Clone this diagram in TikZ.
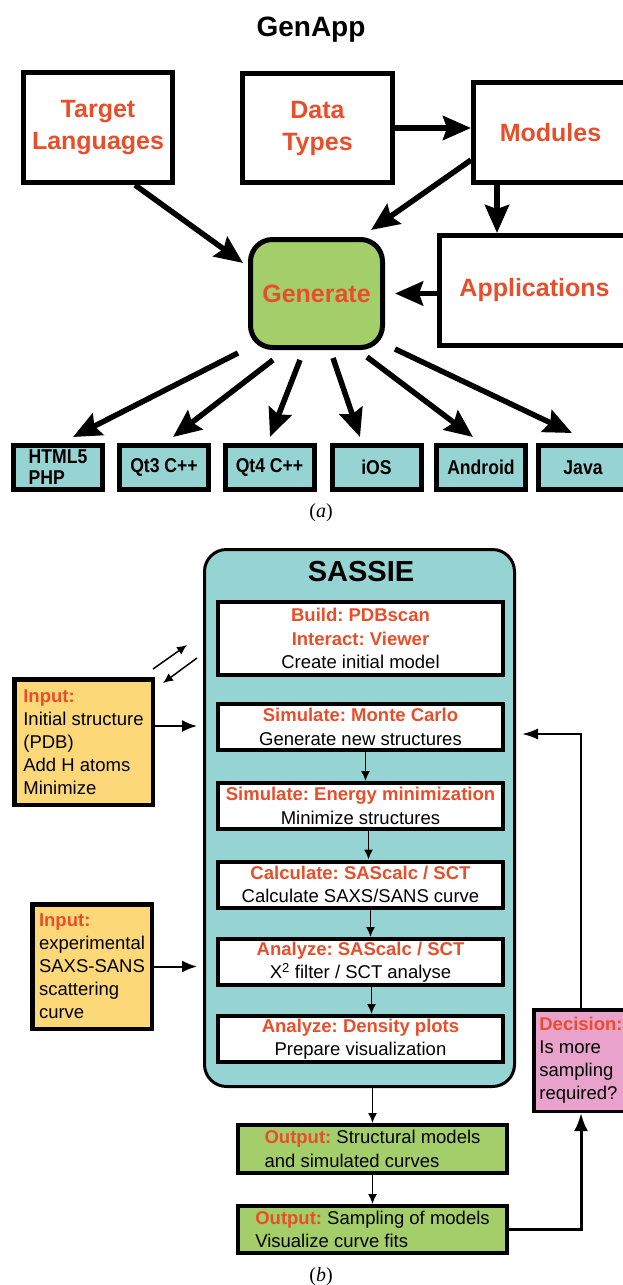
\documentclass[tikz,border=0pt]{standalone}
\usepackage{fontspec}
\setmainfont{Liberation Sans}
\newfontfamily\capfont{Liberation Serif}
\newfontfamily\narrowfont[FakeStretch=0.88]{Liberation Sans}
\usetikzlibrary{arrows.meta,calc}

\definecolor{genred}{RGB}{233,78,43}
\definecolor{gengreen}{RGB}{164,206,106}
\definecolor{sasteal}{RGB}{150,212,212}
\definecolor{inyellow}{RGB}{253,216,121}
\definecolor{decpink}{RGB}{232,162,204}

\newcommand{\redlabel}[1]{{\color{genred}\bfseries #1}}
\frenchspacing

\begin{document}
\begin{tikzpicture}[x=1pt,y=-1pt]
\tikzset{ inner sep=0pt,
  bigbox/.style={draw=black, line width=5pt, fill=white, align=center, text=genred, font=\bfseries\fontsize{25}{32}\selectfont},
  langbox/.style={draw=black, line width=5pt, fill=sasteal, minimum width=89pt, minimum height=44pt, font=\narrowfont\bfseries\fontsize{20}{21}\selectfont},
  bigarrow/.style={line width=5.5pt, -{Stealth[length=28pt,width=24pt,inset=4pt]}},
  stepbox/.style={draw=black, line width=4pt, fill=white, minimum width=285pt, minimum height=46pt, align=center, font=\fontsize{18.5}{23.5}\selectfont},
  inbox/.style={draw=black, line width=4.5pt, fill=inyellow, align=left, font=\fontsize{18.5}{23}\selectfont},
  outbox/.style={draw=black, line width=4pt, fill=gengreen, minimum width=269pt, align=left, font=\fontsize{18.5}{23.5}\selectfont},
  thinarrow/.style={line width=1.5pt, -{Latex[length=10pt,width=9pt]}},
  midarrow/.style={line width=2pt, -{Latex[length=15pt,width=12pt]}},
  caption/.style={font=\capfont\fontsize{20}{24}\selectfont},
}
\useasboundingbox (0,0) rectangle (623,1285);
\fill [white] (0,0) rectangle (623,1285);
\clip (0,0) rectangle (623,1285);

% (a) GenApp
\node [font=\bfseries\fontsize{28}{32}\selectfont] (genapp) at (311,30) {GenApp};

\node [bigbox, minimum width=149pt, minimum height=110pt] (tl)  at (98,127.5)   {Target\\Languages};
\node [bigbox, minimum width=150pt, minimum height=109pt] (dt)  at (317.5,128)  {Data\\Types};
\node [bigbox, minimum width=154pt, minimum height=100pt] (mod) at (550.5,132.5) {Modules};
\node [bigbox, minimum width=190pt, minimum height=110pt] (app) at (534.5,290.5) {Applications};
\node [bigbox, fill=gengreen, rounded corners=22pt, minimum width=132pt, minimum height=108pt] (gen) at (316.5,293.5) {Generate};

\node [langbox, align=left] (html) at (58,467.5)  {HTML5\\PHP};
\node [langbox] (qtthree) at (164,467.5)   {Qt3 C++};
\node [langbox] (qtfour)  at (269.5,467.5) {Qt4 C++};
\node [langbox] (ios)     at (376.5,467.5) {iOS};
\node [langbox] (android) at (481,467.5)   {Android};
\node [langbox] (java)    at (583,467.5)   {Java};

\coordinate (modout) at ($(mod.south)+(-53.5,0)$);

\draw [bigarrow] (dt.east) -- (dt.east -| mod.west);
\draw [bigarrow] ([shift={(0,27.5)}]mod.west) -- ([shift={(-14,-7)}]gen.north east);
\draw [bigarrow] (modout) -- (modout |- app.north);
\draw [bigarrow, shorten >=10pt] (app.west |- gen.east) -- (gen.east);
\draw [bigarrow] ([shift={(37,0)}]tl.south) -- ([shift={(-5,26)}]gen.north west);

\draw [bigarrow] ([shift={(-78.5,3)}]gen.south)  -- ([shift={(15,-6)}]html.north);
\draw [bigarrow] ([shift={(-43.5,10)}]gen.south) -- ([shift={(9,-6)}]qtthree.north);
\draw [bigarrow] ([shift={(-16.5,10)}]gen.south) -- ([shift={(0.5,-6)}]qtfour.north);
\draw [bigarrow] ([shift={(16.5,8)}]gen.south)   -- ([shift={(-16.5,-6)}]ios.north);
\draw [bigarrow] ([shift={(50.5,7)}]gen.south)   -- ([shift={(-8,-6)}]android.north);
\draw [bigarrow] ([shift={(78.5,-1)}]gen.south)  -- ([shift={(-11,-10)}]java.north);

\node [caption] (capa) at (321,513) {(\textit{a})};

% (b) SASSIE
\node [draw=black, line width=3pt, fill=sasteal, rounded corners=22pt, minimum width=310pt, minimum height=537pt] (sassie) at (359.5,818) {};
\node [font=\bfseries\fontsize{29}{32}\selectfont] (sastitle) at (361,572) {SASSIE};

\node [stepbox, minimum height=73pt] (build) at (360.5,638.5) {\redlabel{Build: PDBscan}\\\redlabel{Interact: Viewer}\\Create initial model};
\node [stepbox] (mc)   at (360.5,727)   {\redlabel{Simulate: Monte Carlo}\\Generate new structures};
\node [stepbox] (em)   at (360.5,806)   {\redlabel{Simulate: Energy minimization}\\Minimize structures};
\node [stepbox] (calc) at (360.5,884.5) {\redlabel{Calculate: SAScalc / SCT}\\Calculate SAXS/SANS curve};
\node [stepbox] (sas)  at (360.5,962)   {\redlabel{Analyze: SAScalc / SCT}\\X\textsuperscript{2} filter / SCT analyse};
\node [stepbox] (dens) at (360.5,1039)  {\redlabel{Analyze: Density plots}\\Prepare visualization};

\node [inbox, minimum width=138.5pt, minimum height=125.5pt] (inone) at (83.5,742) {\redlabel{Input:}\\Initial structure\\(PDB)\\Add H atoms\\Minimize};
\node [inbox, minimum width=119.5pt, minimum height=124.5pt] (intwo) at (92,966.5) {\redlabel{Input:}\\experimental\\SAXS-SANS\\scattering\\curve};
\node [inbox, fill=decpink, line width=3.5pt, minimum width=94.5pt, minimum height=101.5pt] (dec) at (581,1060.5) {\redlabel{Decision:}\\Is more\\sampling\\required?};

\node [outbox, minimum height=48pt] (outone) at (372.5,1149)   {\redlabel{Output:} Structural models\\and simulated curves};
\node [outbox, minimum height=47pt] (outtwo) at (372.5,1229.5) {\redlabel{Output:} Sampling of models\\Visualize curve fits};

\draw [thinarrow] ([xshift=5pt]mc.south)   -- ([xshift=5pt]em.north);
\draw [thinarrow] ([xshift=8pt]em.south)   -- ([xshift=8pt]calc.north);
\draw [thinarrow] ([xshift=10pt]calc.south) -- ([xshift=10pt]sas.north);
\draw [thinarrow] ([xshift=11pt]sas.south)  -- ([xshift=11pt]dens.north);

\draw [thinarrow] (outone.north |- sassie.south) -- (outone.north);
\draw [thinarrow] (outone.south) -- (outtwo.north);

\coordinate (inoneout) at ($(inone.east)+(0,-16)$);
\draw [midarrow, shorten >=6pt] (inoneout) -- (inoneout -| sassie.west);
\draw [midarrow, shorten >=6pt] (intwo.east) -- (intwo.east -| sassie.west);

\draw [thinarrow] ([shift={(-2,-8)}]inone.north east) -- ([shift={(32,-32)}]inone.north east);
\draw [thinarrow] ([shift={(42,-19)}]inone.north east) -- ([shift={(8,6)}]inone.north east);

\coordinate (loopend) at (522,734);
\draw [line width=3pt, -{Latex[length=18pt,width=14pt]}] (outtwo.east) -| (dec.south);
\draw [line width=2pt, -{Latex[length=16pt,width=11pt]}] (dec.north) |- (loopend);

\node [caption] (capb) at (321,1277) {(\textit{b})};

\end{tikzpicture}
\end{document}
